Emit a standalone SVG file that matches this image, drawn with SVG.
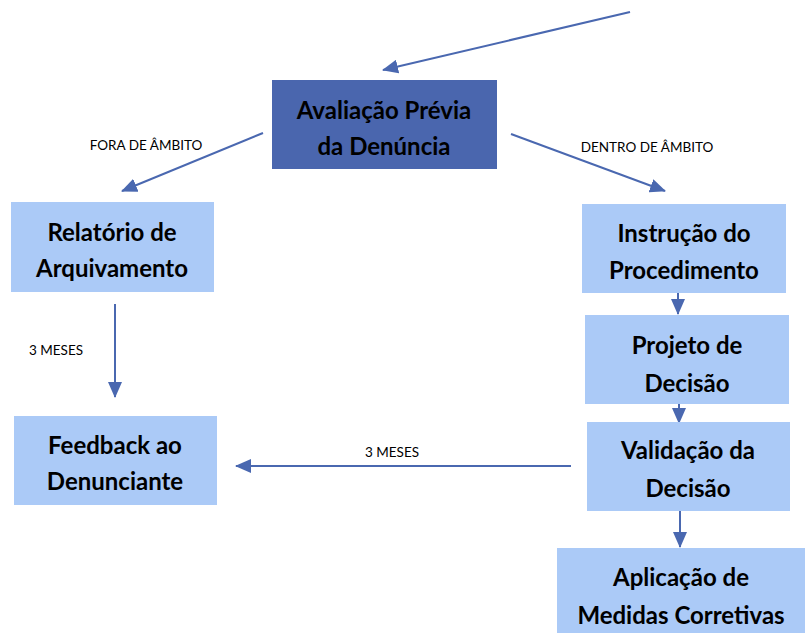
<svg xmlns="http://www.w3.org/2000/svg" width="805" height="633" viewBox="0 0 805 633">
<defs>
<marker id="ahl" markerWidth="16" markerHeight="14" refX="15" refY="7" orient="auto" markerUnits="userSpaceOnUse" viewBox="0 0 16 14">
<path d="M0,0 L16,7 L0,14 z" fill="#4A68B0"/>
</marker>
</defs>
<style>
.box{fill:#ABCAF7}
.dark{fill:#4A66AE}
.t{font-family:Lato,"Liberation Sans",sans-serif;font-weight:bold;font-size:24px;fill:#000;text-anchor:middle}
.l{font-family:Lato,"Liberation Sans",sans-serif;font-size:13.5px;fill:#000;text-anchor:middle}
.c{stroke:#4A68B0;stroke-width:2;fill:none}
</style>
<rect width="805" height="633" fill="#fff"/>
<g id="connectors">
<line class="c" x1="630" y1="12" x2="383" y2="70" marker-end="url(#ahl)"/>
<line class="c" x1="263" y1="133" x2="122" y2="191" marker-end="url(#ahl)"/>
<line class="c" x1="511" y1="134" x2="665" y2="191" marker-end="url(#ahl)"/>
<line class="c" x1="115" y1="304" x2="115" y2="397" marker-end="url(#ahl)"/>
<line class="c" x1="571" y1="466" x2="236" y2="466" marker-end="url(#ahl)"/>
<line class="c" x1="678" y1="293" x2="678" y2="314" marker-end="url(#ahl)"/>
<line class="c" x1="679" y1="404" x2="679" y2="423" marker-end="url(#ahl)"/>
<line class="c" x1="680" y1="511" x2="680" y2="547" marker-end="url(#ahl)"/>
<text class="l" x="146" y="150">FORA DE ÂMBITO</text>
<text class="l" x="647" y="152">DENTRO DE ÂMBITO</text>
<text class="l" x="56" y="355">3 MESES</text>
<text class="l" x="392" y="457">3 MESES</text>
</g>
<g id="avaliacao">
<rect class="dark" x="272" y="80" width="225" height="89"/>
<text class="t" x="384" y="119">Avaliação Prévia</text>
<text class="t" x="384" y="155">da Denúncia</text>
</g>
<g id="relatorio">
<rect class="box" x="11" y="202" width="203" height="90"/>
<text class="t" x="112" y="241">Relatório de</text>
<text class="t" x="112" y="277">Arquivamento</text>
</g>
<g id="feedback">
<rect class="box" x="14" y="416" width="203" height="89"/>
<text class="t" x="115" y="454">Feedback ao</text>
<text class="t" x="115" y="490">Denunciante</text>
</g>
<g id="instrucao">
<rect class="box" x="582" y="204" width="204" height="89"/>
<text class="t" x="684" y="242">Instrução do</text>
<text class="t" x="684" y="279">Procedimento</text>
</g>
<g id="projeto">
<rect class="box" x="585" y="315" width="204" height="89"/>
<text class="t" x="687" y="354">Projeto de</text>
<text class="t" x="687" y="392">Decisão</text>
</g>
<g id="validacao">
<rect class="box" x="587" y="422" width="203" height="89"/>
<text class="t" x="688" y="459">Validação da</text>
<text class="t" x="688" y="497">Decisão</text>
</g>
<g id="aplicacao">
<rect class="box" x="557" y="548" width="250" height="87"/>
<text class="t" x="681" y="586">Aplicação de</text>
<text class="t" x="681" y="624">Medidas Corretivas</text>
</g>
</svg>
